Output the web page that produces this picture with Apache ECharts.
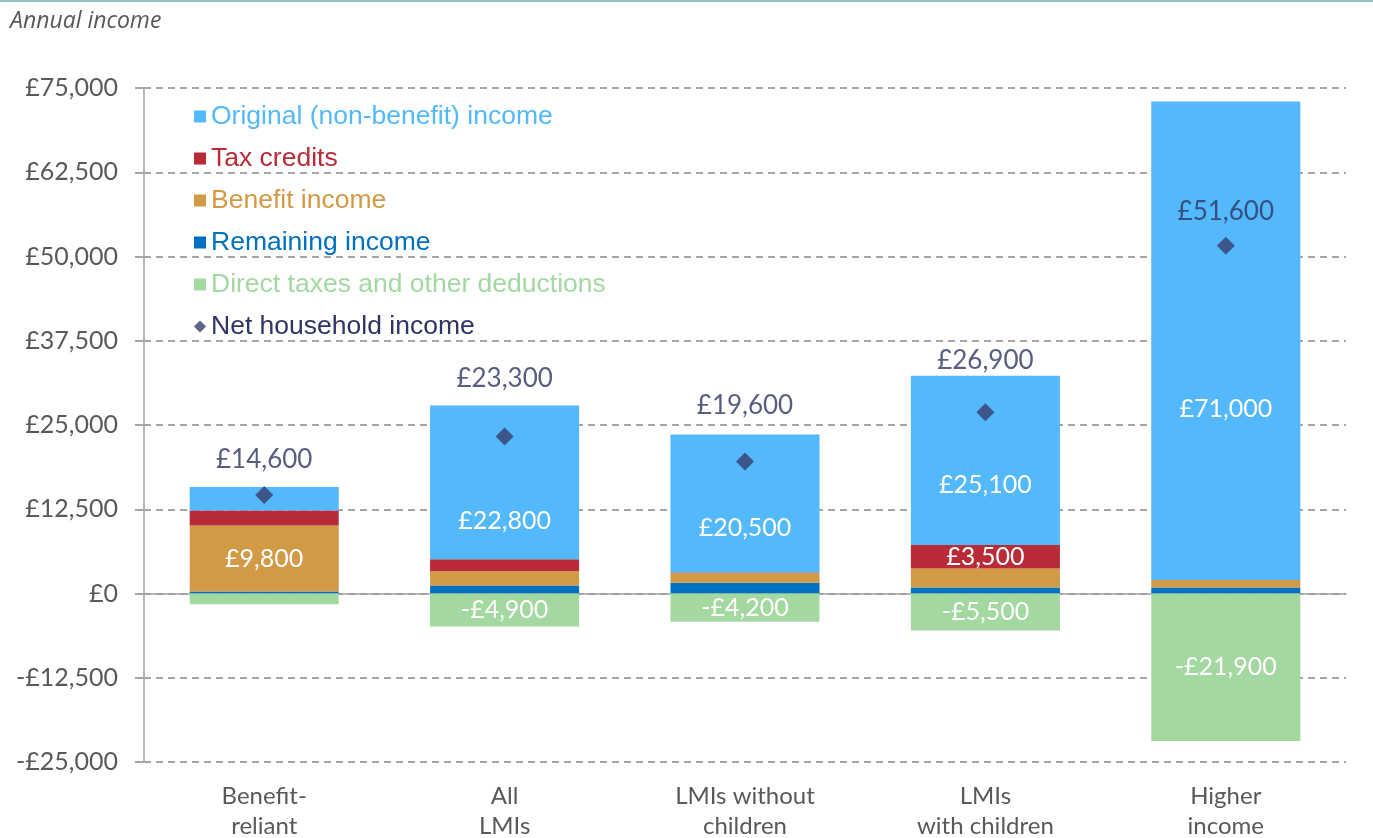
<!DOCTYPE html>
<html>
<head>
<meta charset="utf-8">
<title>Annual income</title>
<script src="https://cdn.jsdelivr.net/npm/echarts@6/dist/echarts.min.js"></script>
<style>
  html, body { margin: 0; padding: 0; background: #fff; }
  #chart { width: 1373px; height: 838px; }
</style>
</head>
<body>
<div id="chart"></div>
<script>
const categories = ['Benefit-\nreliant', 'All\nLMIs', 'LMIs without\nchildren', 'LMIs\nwith children', 'Higher\nincome'];
const remaining = [300, 1200, 1600, 900, 900];
const benefit = [9800, 2100, 1400, 2800, 1100];
const taxCredits = [2200, 1800, 100, 3500, 0];
const original = [3500, 22800, 20500, 25100, 71000];
const directTaxes = [-1600, -4900, -4200, -5500, -21900];
const netIncome = [14600, 23300, 19600, 26900, 51600];
const yTicks = { min: -25000, max: 75000, step: 12500 };

// which bar segments carry a value label
const showOriginal = [false, true, true, true, true];
const showBenefit = [true, false, false, false, false];
const showTax = [false, false, false, true, false];
const showDirect = [false, true, true, true, true];
// label nudges (px), as placed in the source chart
const originalShift = [0, 39, 24, 25, 68];
const netGap = [13, 36, 34, 30, 12];

const chart = echarts.init(document.getElementById('chart'));

function money(v) {
  const s = Math.round(Math.abs(v)).toString().replace(/\B(?=(\d{3})+(?!\d))/g, ',');
  return (v < 0 ? '-£' : '£') + s;
}

function segData(values, flags, shift) {
  return values.map((v, i) => ({
    value: v,
    label: { show: flags[i], offset: [0, shift ? shift[i] : 0] }
  }));
}

const inLabel = {
  position: 'inside',
  color: '#fff',
  fontFamily: 'Lato, sans-serif',
  fontSize: 25,
  formatter: p => money(p.value)
};

const colors = {
  original: '#53b9fc',
  tax: '#b82b37',
  benefit: '#d39a46',
  remaining: '#0070c0',
  direct: '#a3d9a1',
  net: '#383d6c'
};

const legendFont = { fontFamily: '"Liberation Sans", Arial, sans-serif', fontSize: 26.5, lineHeight: 26 };

function legendItem(name, icon, color) {
  return { name: name, icon: icon, textStyle: Object.assign({ color: color }, legendFont) };
}

function bar(name, values, color, flags, shift) {
  return {
    name: name,
    type: 'bar',
    stack: 'income',
    barWidth: '62%',
    itemStyle: { color: color },
    label: inLabel,
    emphasis: { disabled: true },
    data: segData(values, flags, shift)
  };
}

const option = {
  animation: false,
  textStyle: { fontFamily: 'Lato, sans-serif' },
  graphic: [
    { type: 'rect', left: 0, top: 0, shape: { width: 1373, height: 2 }, style: { fill: '#93c6c0' } },
    { type: 'text', left: 10, top: 10, style: { text: 'Annual income', font: 'italic 23px "Open Sans", sans-serif', fill: '#595959' } }
  ],
  grid: { left: 144, right: 27, top: 88, bottom: 76, outerBoundsMode: 'none' },
  legend: {
    orient: 'vertical',
    left: 189,
    top: 98,
    itemWidth: 12,
    itemHeight: 12,
    itemGap: 15,
    selectedMode: false,
    textStyle: legendFont,
    data: [
      legendItem('Original (non-benefit) income', 'rect', colors.original),
      legendItem('Tax credits', 'rect', colors.tax),
      legendItem('Benefit income', 'rect', colors.benefit),
      legendItem('Remaining income', 'rect', colors.remaining),
      legendItem('Direct taxes and other deductions', 'rect', colors.direct),
      legendItem('Net household income', 'diamond', '#2f3462')
    ]
  },
  xAxis: {
    type: 'category',
    data: categories,
    axisLine: { onZero: true, lineStyle: { color: '#a0a0a0', width: 1.5 } },
    axisTick: { show: false },
    axisLabel: {
      interval: 0,
      color: '#595959',
      fontSize: 24,
      lineHeight: 30,
      margin: 19
    }
  },
  yAxis: {
    type: 'value',
    min: yTicks.min,
    max: yTicks.max,
    interval: yTicks.step,
    axisLine: { show: true, lineStyle: { color: '#a0a0a0', width: 1.5 } },
    axisTick: { show: true, length: 9, lineStyle: { color: '#a6a6a6', width: 2 } },
    splitLine: { lineStyle: { color: '#a6a6a6', width: 2, type: [7, 5] } },
    axisLabel: {
      color: '#595959',
      fontSize: 25,
      margin: 26,
      formatter: v => money(v)
    }
  },
  series: [
    bar('Remaining income', remaining, colors.remaining, [false, false, false, false, false]),
    bar('Benefit income', benefit, colors.benefit, showBenefit),
    bar('Tax credits', taxCredits, colors.tax, showTax),
    bar('Original (non-benefit) income', original, colors.original, showOriginal, originalShift),
    bar('Direct taxes and other deductions', directTaxes, colors.direct, showDirect),
    {
      name: 'Net household income',
      type: 'scatter',
      symbol: 'diamond',
      symbolSize: 18,
      itemStyle: { color: colors.net },
      z: 5,
      emphasis: { disabled: true },
      label: {
        show: true,
        position: 'top',
        color: '#2f3462',
        fontSize: 26,
        formatter: p => money(p.value)
      },
      data: netIncome.map((v, i) => ({ value: v, label: { distance: netGap[i] } }))
    }
  ]
};

chart.setOption(option);
</script>
</body>
</html>
